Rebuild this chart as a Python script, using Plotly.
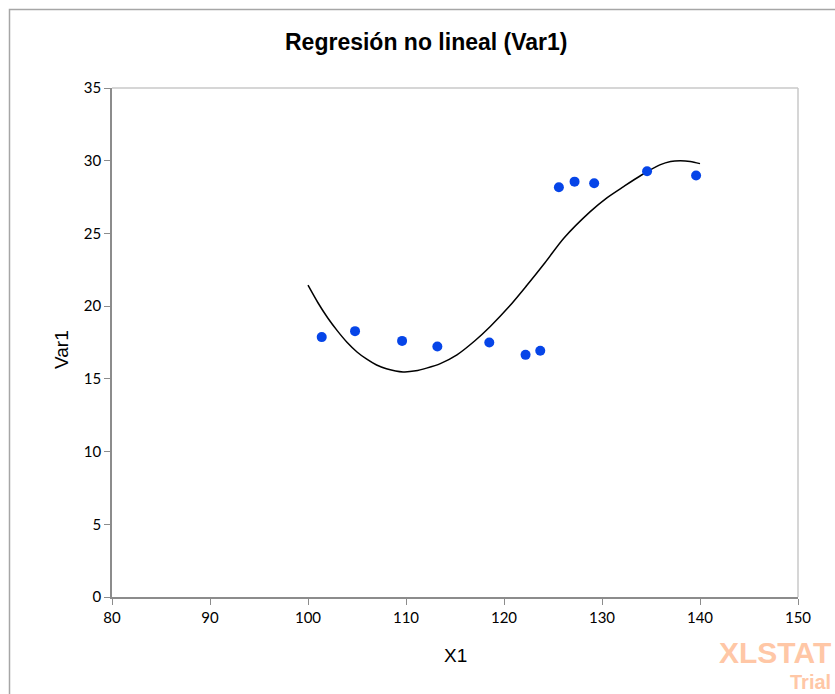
import plotly.graph_objects as go

# Observed values
x_obs = [101.4, 104.8, 109.6, 113.2, 118.5, 122.2, 123.7, 125.6, 127.2, 129.2, 134.6, 139.6]
y_obs = [17.87, 18.28, 17.61, 17.22, 17.50, 16.65, 16.93, 28.18, 28.56, 28.45, 29.28, 28.98]

# Fitted model curve samples
x_fit = [100.0, 101.0, 102.0, 103.0, 104.0, 105.0, 106.0, 107.0, 108.0, 109.7,
         111.0, 112.1, 113.5, 115.2, 117.0, 118.6, 120.5, 122.3, 124.2, 126.1,
         128.8, 130.5, 132.2, 134.0, 135.9, 137.0, 138.0, 139.0, 140.0]
y_fit = [21.44, 20.25, 19.20, 18.30, 17.50, 16.85, 16.35, 15.95, 15.70, 15.48,
         15.55, 15.74, 16.05, 16.65, 17.60, 18.60, 19.95, 21.40, 23.00, 24.67,
         26.50, 27.45, 28.22, 29.00, 29.71, 29.95, 30.00, 29.95, 29.80]

x_ticks = [80, 90, 100, 110, 120, 130, 140, 150]
y_ticks = [0, 5, 10, 15, 20, 25, 30, 35]

W, H = 835, 694
L, R, T, B = 112, 798, 88, 597   # plot area in pixels
pw, ph = R - L, B - T


def px(xp):
    return (xp - L) / pw


def py(yp):
    return (B - yp) / ph


tick_font = dict(family="Lato, Open Sans, sans-serif", size=15, color="#000000")
axis_grey = "#8c8c8c"

fig = go.Figure()
fig.add_trace(go.Scatter(
    x=x_fit, y=y_fit, mode="lines",
    line=dict(color="#000000", width=1.5, shape="spline", smoothing=0.8),
    hoverinfo="skip", showlegend=False,
))
fig.add_trace(go.Scatter(
    x=x_obs, y=y_obs, mode="markers",
    marker=dict(color="#0645e8", size=10, line=dict(width=0)),
    showlegend=False,
))

fig.update_layout(
    width=W, height=H,
    margin=dict(l=L, r=W - R, t=T, b=H - B, pad=0),
    paper_bgcolor="#ffffff", plot_bgcolor="#ffffff",
    xaxis=dict(
        range=[80, 150], tickvals=x_ticks, ticktext=[str(v) for v in x_ticks],
        showgrid=False, zeroline=False, showline=True, linecolor=axis_grey, linewidth=1.5,
        ticks="outside", ticklen=6, tickcolor=axis_grey, tickwidth=1,
        tickfont=tick_font, fixedrange=True,
    ),
    yaxis=dict(
        range=[0, 35], tickvals=y_ticks, ticktext=[str(v) for v in y_ticks],
        showgrid=False, zeroline=False, showline=True, linecolor=axis_grey, linewidth=1.5,
        ticks="outside", ticklen=6, tickcolor=axis_grey, tickwidth=1,
        tickfont=tick_font, fixedrange=True,
    ),
    shapes=[
        # top and right edges of the plot area
        dict(type="line", xref="paper", yref="paper", x0=0, x1=1, y0=1, y1=1,
             line=dict(color="#c8c8c8", width=1.5)),
        dict(type="line", xref="paper", yref="paper", x0=1, x1=1, y0=0, y1=1,
             line=dict(color="#c8c8c8", width=1.5)),
        # outer chart frame
        dict(type="rect", xref="paper", yref="paper",
             x0=px(9.5), x1=px(860), y0=py(720), y1=py(9.5),
             line=dict(color="#a6a6a6", width=1.5), layer="below"),
    ],
    annotations=[
        dict(text="<b>Regresión no lineal (Var1)</b>", xref="paper", yref="paper",
             x=px(426), y=py(42), xanchor="center", yanchor="middle", showarrow=False,
             font=dict(family="Liberation Sans, Arial, sans-serif", size=23, color="#000000")),
        dict(text="X1", xref="paper", yref="paper",
             x=px(455), y=py(655), xanchor="center", yanchor="middle", showarrow=False,
             font=dict(family="Liberation Sans, Arial, sans-serif", size=19, color="#000000")),
        dict(text="Var1", xref="paper", yref="paper", textangle=-90,
             x=px(62), y=py(350), xanchor="center", yanchor="middle", showarrow=False,
             font=dict(family="Liberation Sans, Arial, sans-serif", size=19, color="#000000")),
        dict(text="<b>XLSTAT</b>", xref="paper", yref="paper",
             x=px(832), y=py(652), xanchor="right", yanchor="middle", showarrow=False,
             borderpad=0,
             font=dict(family="Liberation Sans, Arial, sans-serif", size=30, color="#ffc7a6")),
        dict(text="<b>Trial</b>", xref="paper", yref="paper",
             x=px(832), y=py(682), xanchor="right", yanchor="middle", showarrow=False,
             borderpad=0,
             font=dict(family="Liberation Sans, Arial, sans-serif", size=20, color="#ffc7a6")),
    ],
)

fig.write_html("out.html")
